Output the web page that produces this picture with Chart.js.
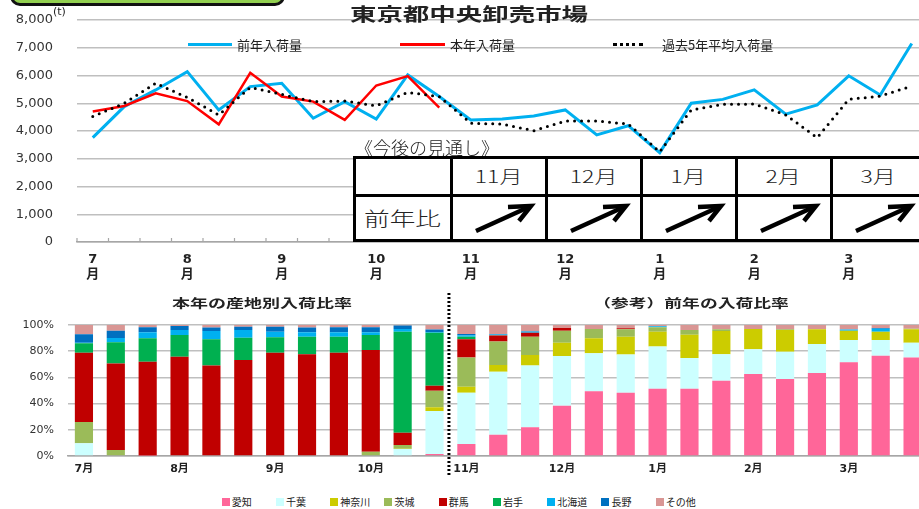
<!DOCTYPE html>
<html><head><meta charset="utf-8">
<script src="https://cdn.jsdelivr.net/npm/chart.js@4.4.1/dist/chart.umd.min.js"></script>
<style>
html,body{margin:0;padding:0;width:919px;height:509px;overflow:hidden;background:#fff;}
#wrap{position:relative;width:919px;height:509px;overflow:hidden;font-family:"Noto Sans CJK JP","DejaVu Sans",sans-serif;color:#222;}
canvas{position:absolute;left:0;}
.abs{position:absolute;white-space:nowrap;}
.sx{display:inline-block;white-space:nowrap;}
</style></head>
<body><div id="wrap">
<div class="abs" style="left:10px;top:-40px;width:275px;height:46px;box-sizing:border-box;border:3px solid #111;border-radius:10px;background:#92D050;"></div>
<canvas id="c1" width="940" height="290" style="top:0"></canvas>
<canvas id="c2" width="940" height="190" style="top:290px"></canvas>
<div id="overlay"></div>
</div>
<script>
// ---------- data ----------
const categories = ['7月上旬','7月中旬','7月下旬','8月上旬','8月中旬','8月下旬','9月上旬','9月中旬','9月下旬','10月上旬','10月中旬','10月下旬','11月上旬','11月中旬','11月下旬','12月上旬','12月中旬','12月下旬','1月上旬','1月中旬','1月下旬','2月上旬','2月中旬','2月下旬','3月上旬','3月中旬','3月下旬'];
const monthLabels = ['7','8','9','10','11','12','1','2','3'];
const prevYear = [3760,4880,5480,6140,4760,5600,5720,4460,5060,4430,6020,5240,4400,4430,4540,4760,3860,4190,3220,5000,5140,5480,4610,4940,5990,5300,7150];
const thisYear = [4700,4900,5360,5080,4240,6100,5240,5060,4400,5640,5980,4840,null,null,null,null,null,null,null,null,null,null,null,null,null,null,null];
const avg5 = [4520,5000,5720,5210,4580,5570,5320,5060,5080,4910,5390,5240,4280,4250,4010,4360,4360,4250,3250,4760,4960,4970,4580,3760,5140,5260,5620];
const yTicks = [0,1000,2000,3000,4000,5000,6000,7000,8000];

const regions = ['愛知','千葉','神奈川','茨城','群馬','岩手','北海道','長野','その他'];
const regionColors = ['#FF6699','#CCFFFF','#CCCC00','#9BBB59','#C00000','#00B050','#00B0F0','#0070C0','#D99694'];
const aichi    = [0,0,0.3,0,0,0,0,0,0,0,0,1.5, 9.2,16.3,21.9,38.4,49.4,48.3,51.4,51.4,57.5,62.6,58.8,63.4,71.5,76.6,75.1];
const chiba    = [9.7,0.5,0,0,0,0,0,0,0,0.5,5.3,32.9, 39.1,48.1,47.1,37.9,29.0,29.1,32.1,23.4,20.1,18.8,20.8,22.1,17.0,11.9,11.4];
const kanagawa = [0,0,0,0,0,0,0,0,0,0,0.3,2.8, 4.6,5.1,8.1,10.2,11.4,13.7,11.4,17.8,17.8,15.5,16.6,11.2,7.2,6.4,10.2];
const ibaraki  = [16.3,4.1,0,0,0,0,0,0,0,2.8,2.8,12.7, 22.2,18.0,14.0,9.2,7.1,5.6,3.3,3.6,1.3,0,0.5,0,0,0,0.5];
const gunma    = [52.9,66.1,71.7,75.8,69.0,73.3,78.9,77.6,78.9,77.6,9.4,3.8, 14.0,4.4,3.0,2.0,0,0.8,0,0,0,0,0,0,0,0,0];
const iwate    = [7.1,16.1,17.8,16.6,20.1,17.0,11.7,13.5,12.2,11.5,77.1,40.4, 2.0,0.3,0,0,0,0,0,0,0,0,0,0,0,0,0];
const hokkaido = [0.5,3.3,4.6,3.8,6.3,5.9,4.3,3.3,3.3,2.0,2.0,0.5, 1.0,0.5,0.8,0,0,0,0.8,0,0,0,0,0,0.8,2.3,0];
const nagano   = [6.4,5.6,3.8,3.0,2.6,2.5,3.8,3.6,3.8,3.8,2.8,1.9, 1.0,0.4,0.3,0,0,0,0,0,0,0,0,0,0,0.5,0];
const other    = [7.1,4.3,1.8,0.8,2.0,1.3,1.3,2.0,1.8,1.8,0.3,3.5, 6.9,6.9,4.8,2.3,3.1,2.5,1.0,3.8,3.3,3.1,3.3,3.3,3.5,2.3,2.8];
const shares = [aichi,chiba,kanagawa,ibaraki,gunma,iwate,hokkaido,nagano,other];

const outlookMonths = ['11月','12月','1月','2月','3月'];
const outlookTrend = ['up','up','up','up','up'];

// ---------- top line chart ----------
const tickMarks = {
  id:'tickMarks',
  afterDraw(chart){
    const xs = chart.scales.x, ctx = chart.ctx, b = chart.chartArea.bottom;
    const n = chart.data.labels.length;
    const half = (xs.getPixelForValue(1)-xs.getPixelForValue(0))/2;
    ctx.save(); ctx.strokeStyle='#a6a6a6'; ctx.lineWidth=1.2;
    for(let i=0;i<=n;i++){
      const x = i<n ? xs.getPixelForValue(i) - half : xs.getPixelForValue(n-1) + half;
      ctx.beginPath(); ctx.moveTo(x,b); ctx.lineTo(x,b-4); ctx.stroke();
    }
    ctx.restore();
  }
};
new Chart(document.getElementById('c1'),{
  type:'line',
  data:{labels:categories,datasets:[
    {label:'前年入荷量',data:prevYear,borderColor:'#00B0F0',backgroundColor:'#00B0F0',borderWidth:3,pointRadius:0,tension:0,order:2},
    {label:'本年入荷量',data:thisYear,borderColor:'#FF0000',backgroundColor:'#FF0000',borderWidth:2.5,pointRadius:0,tension:0,order:1},
    {label:'過去5年平均入荷量',data:avg5,borderColor:'#000',backgroundColor:'#000',borderWidth:3,borderDash:[0,7],borderCapStyle:'round',pointRadius:0,tension:0,order:0}
  ]},
  options:{
    responsive:false,animation:false,
    layout:{padding:{left:0,right:12.5,top:20,bottom:0}},
    plugins:{legend:{display:false},tooltip:{enabled:false},title:{display:false}},
    scales:{
      x:{offset:true,grid:{display:false,drawTicks:false},border:{display:true,color:'#a6a6a6',width:1.5},
        ticks:{autoSkip:false,maxRotation:0,minRotation:0,padding:10,color:'#222',
          font:{family:'DejaVu Sans, Noto Sans CJK JP',size:13,weight:'bold',lineHeight:1.15},
          callback:(v,i)=> i%3===0 ? [monthLabels[i/3],'月'] : ''},
        afterFit:s=>{s.height=48;}},
      y:{min:0,max:8000,afterBuildTicks:s=>{s.ticks=yTicks.map(v=>({value:v}));},
        ticks:{padding:3,color:'#333',font:{family:'DejaVu Sans',size:13},callback:v=>v.toLocaleString('en-US')},
        grid:{color:'#bfbfbf',lineWidth:1.5,drawTicks:true,tickLength:21,tickColor:'rgba(0,0,0,0)'},border:{display:false},
        afterFit:s=>{s.width=77;}}
    }
  },
  plugins:[tickMarks]
});

// ---------- bottom stacked bar chart ----------
const divider = {
  id:'divider',
  afterDraw(chart){
    const xs = chart.scales.x, ctx = chart.ctx, a = chart.chartArea;
    const x = (xs.getPixelForValue(11)+xs.getPixelForValue(12))/2 - 1.5;
    ctx.save(); ctx.strokeStyle='#000'; ctx.lineWidth=3; ctx.setLineDash([2,2]);
    ctx.beginPath(); ctx.moveTo(x,a.top-32); ctx.lineTo(x,a.bottom+20); ctx.stroke(); ctx.restore();
  }
};
new Chart(document.getElementById('c2'),{
  type:'bar',
  data:{labels:categories,datasets:regions.map((r,k)=>({label:r,data:shares[k],backgroundColor:regionColors[k],borderWidth:0,barPercentage:0.57,categoryPercentage:1}))},
  options:{
    responsive:false,animation:false,
    layout:{padding:{left:0,right:11.5,top:35,bottom:0}},
    plugins:{legend:{display:false},tooltip:{enabled:false}},
    scales:{
      x:{stacked:true,grid:{display:false,drawTicks:false},border:{display:true,color:'#a6a6a6',width:1.5},
        ticks:{autoSkip:false,maxRotation:0,minRotation:0,padding:7,color:'#222',font:{family:'DejaVu Sans, Noto Sans CJK JP',size:11,weight:'bold'},
          callback:(v,i)=> i%3===0 ? monthLabels[i/3]+'月' : ''},
        afterFit:s=>{s.height=24;}},
      y:{stacked:true,min:0,max:100,ticks:{stepSize:20,padding:14,color:'#333',font:{family:'DejaVu Sans',size:11},callback:v=>v+'%'},
        grid:{color:'#bfbfbf',lineWidth:1.5,drawTicks:false},border:{display:false},
        afterFit:s=>{s.width=68;}}
    }
  },
  plugins:[divider]
});

// ---------- overlays (titles, legends, outlook table) ----------
const ov = document.getElementById('overlay');
function add(html){ ov.insertAdjacentHTML('beforeend',html); }
function centered(text,cx,cy,size,scale,weight,family,color){
  add(`<div class="abs" style="left:${cx-300}px;width:600px;top:${cy-size}px;height:${size*2}px;line-height:${size*2}px;text-align:center;font-size:${size}px;font-weight:${weight};font-family:${family};color:${color}"><span class="sx" style="transform:scaleX(${scale})">${text}</span></div>`);
}
function lefted(text,x,cy,size,scale,weight,family,color){
  add(`<div class="abs" style="left:${x}px;top:${cy-size}px;height:${size*2}px;line-height:${size*2}px;font-size:${size}px;font-weight:${weight};font-family:${family};color:${color};transform-origin:left center;transform:scaleX(${scale})">${text}</div>`);
}
const jp = '"Noto Sans CJK JP",sans-serif';
const serifJp = '"Liberation Serif","Noto Sans CJK JP",serif';
// main title
centered('東京都中央卸売市場',469,13,18,1.47,'bold',jp,'#000');
// unit
add(`<div class="abs" style="left:53px;top:5px;font:11px 'DejaVu Sans';color:#222">(t)</div>`);
// top legend
const topLegend = [
  {label:'前年入荷量',x:188,w:44,style:'background:#00B0F0;height:3px;top:42.5px'},
  {label:'本年入荷量',x:400,w:45,style:'background:#FF0000;height:3px;top:42.5px'},
  {label:'過去5年平均入荷量',x:613,w:30,style:'border-top:3px dotted #000;height:0;top:42.5px'}
];
topLegend.forEach(it=>{
  add(`<div class="abs" style="left:${it.x}px;width:${it.w}px;${it.style}"></div>`);
  lefted(it.label,it.x+it.w+(it.w<40?19:5),44.5,13,1.47,'normal',jp,'#222');
});
// bottom titles
centered('本年の産地別入荷比率',262,303,12,1.5,'bold',jp,'#000');
centered('（参考）前年の入荷比率',691,303,12,1.48,'bold',jp,'#000');
// bottom legend
regions.forEach((r,i)=>{
  const x = 221.7 + 54.25*i;
  add(`<div class="abs" style="left:${x}px;top:498px;width:8px;height:8px;background:${regionColors[i]}"></div>`);
  lefted(r,x+10,502,10,1.3,'normal',jp,'#333');
});
// outlook table
lefted('《今後の見通し》',355,146.5,18,1.32,'300',jp,'#222');
const colX = [354,451,546,641,736,831,926];
const rowY = [157,195,240.5];
add(`<div class="abs" style="left:${colX[0]}px;top:${rowY[0]}px;width:${940-colX[0]}px;height:${rowY[2]-rowY[0]}px;background:#fff"></div>`);
rowY.forEach(y=>add(`<div class="abs" style="left:${colX[0]-1.5}px;top:${y-1.5}px;width:${940-colX[0]}px;height:3px;background:#000"></div>`));
colX.forEach(x=>add(`<div class="abs" style="left:${x-1.5}px;top:${rowY[0]-1.5}px;width:3px;height:${rowY[2]-rowY[0]+3}px;background:#000"></div>`));
centered('前年比',(colX[0]+colX[1])/2,(rowY[1]+rowY[2])/2,19,1.35,'300',jp,'#222');
outlookMonths.forEach((m,i)=>{
  const cx=(colX[i+1]+colX[i+2])/2;
  centered(m,cx,(rowY[0]+rowY[1])/2,17,1.35,'300',serifJp,'#222');
  if(outlookTrend[i]==='up'){
    add(`<svg class="abs" style="left:${colX[i+1]}px;top:${rowY[1]}px" width="95" height="45" viewBox="0 0 95 45"><line x1="25" y1="36" x2="79" y2="11.5" stroke="#000" stroke-width="4.5"/><polyline points="57,12 80,11 68,26" fill="none" stroke="#000" stroke-width="4.5" stroke-linejoin="miter"/></svg>`);
  }
});
</script>
</body></html>
